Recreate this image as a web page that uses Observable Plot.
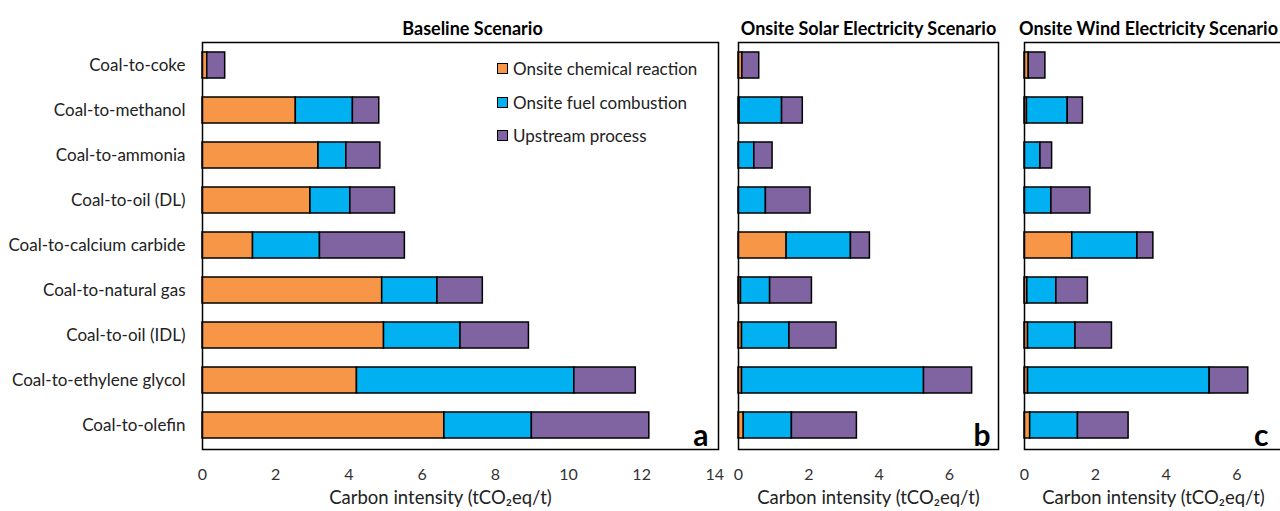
<!DOCTYPE html>
<html>
<head>
<meta charset="utf-8">
<script src="https://cdn.jsdelivr.net/npm/d3@7"></script>
<script src="https://cdn.jsdelivr.net/npm/@observablehq/plot@0.6"></script>
<style>
  html, body { margin: 0; padding: 0; background: #fff; }
  body { width: 1280px; height: 511px; overflow: hidden; position: relative; font-family: Lato, "Noto Sans", sans-serif; }
  .panel { position: absolute; top: 0; }
  .panel svg { max-width: none !important; }
  .legend { position: absolute; left: 497px; top: 52px; font-size: 17px; color: #222; }
  .legend .row { display: flex; align-items: center; height: 33.5px; }
  .legend .sw { width: 9px; height: 9px; border: 1.5px solid #000; margin-right: 5px; }
</style>
</head>
<body>
<div id="pa" class="panel" style="left:0px;width:720px"></div>
<div id="pb" class="panel" style="left:730px;width:280px"></div>
<div id="pc" class="panel" style="left:1016px;width:280px"></div>
<div id="legend" class="legend"></div>
<script>
const categories = ["Coal-to-coke","Coal-to-methanol","Coal-to-ammonia","Coal-to-oil (DL)","Coal-to-calcium carbide","Coal-to-natural gas","Coal-to-oil (IDL)","Coal-to-ethylene glycol","Coal-to-olefin"];
const components = ["Onsite chemical reaction","Onsite fuel combustion","Upstream process"];
const colors = ["#F79646","#00B0F0","#8064A2"];
const xTicksA = [0,2,4,6,8,10,12,14];
const xTicksBC = [0,2,4,6];
const panelTitles = ["Baseline Scenario","Onsite Solar Electricity Scenario","Onsite Wind Electricity Scenario"];
const panelLetters = ["a","b","c"];
const axisTitle = "Carbon intensity (tCO\u2082eq/t)";

// Baseline scenario (tCO2eq/t)
const baseChem = [0.13,2.55,3.17,2.95,1.38,4.91,4.96,4.22,6.61];
const baseFuel = [0.00,1.56,0.76,1.09,1.83,1.51,2.09,5.94,2.39];
const baseUp   = [0.49,0.72,0.93,1.22,2.32,1.24,1.87,1.68,3.21];
// Onsite solar electricity scenario
const solarChem = [0.11,0.03,0.00,0.00,1.37,0.07,0.10,0.10,0.15];
const solarFuel = [0.00,1.21,0.45,0.78,1.83,0.83,1.35,5.18,1.37];
const solarUp   = [0.48,0.59,0.52,1.27,0.54,1.19,1.34,1.37,1.85];
// Onsite wind electricity scenario
const windChem = [0.12,0.07,0.00,0.00,1.35,0.08,0.10,0.10,0.16];
const windFuel = [0.00,1.15,0.45,0.76,1.84,0.82,1.34,5.13,1.35];
const windUp   = [0.47,0.43,0.33,1.10,0.45,0.89,1.03,1.09,1.43];

function toRows(chem, fuel, up) {
  const rows = [];
  categories.forEach((c, i) => {
    rows.push({cat: c, comp: components[0], v: chem[i]});
    rows.push({cat: c, comp: components[1], v: fuel[i]});
    rows.push({cat: c, comp: components[2], v: up[i]});
  });
  return rows;
}

function panel(o) {
  const data = toRows(o.chem, o.fuel, o.up);
  const marks = [
    Plot.barX(data, Plot.stackX({x: "v", y: "cat", fill: "comp", stroke: "#000", strokeWidth: 1.5})),
    Plot.frame({stroke: "#000", strokeWidth: 1.5}),
    Plot.axisX({ticks: o.ticks, tickSize: 0, tickPadding: 19, fontSize: 16, fill: "#333", label: null, tickFormat: d => String(d)}),
    Plot.text([o.title], {frameAnchor: "top", dx: o.titleDx || 0, dy: -20, fontWeight: "bold", fontSize: 18, fill: "#000"}),
    Plot.text([axisTitle], {frameAnchor: "bottom", dx: o.labelDx || 0, dy: 54, fontSize: 18.5, fill: "#222"}),
    Plot.text([o.letter], {frameAnchor: "bottom-right", dx: o.letterDx, dy: -4, fontWeight: "bold", fontSize: 30, fill: "#000"})
  ];
  if (o.showY) {
    marks.push(Plot.axisY({tickSize: 0, tickPadding: 17, fontSize: 17, fill: "#222", label: null}));
  }
  return Plot.plot({
    width: o.width,
    height: 511,
    marginTop: 42,
    marginBottom: 62,
    marginLeft: o.marginLeft,
    marginRight: o.marginRight,
    style: {fontFamily: "Lato, 'Noto Sans', sans-serif", background: "transparent", overflow: "visible", maxWidth: "none"},
    x: {domain: o.domain, axis: null},
    y: {domain: categories, paddingInner: 0.42, paddingOuter: 0.21, axis: null},
    color: {domain: components, range: colors},
    marks
  });
}

document.getElementById("pa").append(panel({
  chem: baseChem, fuel: baseFuel, up: baseUp, width: 720, marginLeft: 202, marginRight: 2,
  domain: [0, 14.1], ticks: xTicksA, title: panelTitles[0], letter: panelLetters[0],
  showY: true, titleDx: 12, labelDx: -20, letterDx: -10
}));
document.getElementById("pb").append(panel({
  chem: solarChem, fuel: solarFuel, up: solarUp, width: 280, marginLeft: 8, marginRight: 12,
  domain: [0, 7.4], ticks: xTicksBC, title: panelTitles[1], letter: panelLetters[1],
  showY: false, letterDx: -8
}));
document.getElementById("pc").append(panel({
  chem: windChem, fuel: windFuel, up: windUp, width: 280, marginLeft: 8, marginRight: 10,
  domain: [0, 7.4], ticks: xTicksBC, title: panelTitles[2], letter: panelLetters[2],
  showY: false, titleDx: -7, labelDx: -2, letterDx: -18
}));

const legend = document.getElementById("legend");
components.forEach((c, i) => {
  const row = document.createElement("div");
  row.className = "row";
  const sw = document.createElement("span");
  sw.className = "sw";
  sw.style.background = colors[i];
  const t = document.createElement("span");
  t.textContent = c;
  row.append(sw, t);
  legend.append(row);
});
</script>
</body>
</html>
